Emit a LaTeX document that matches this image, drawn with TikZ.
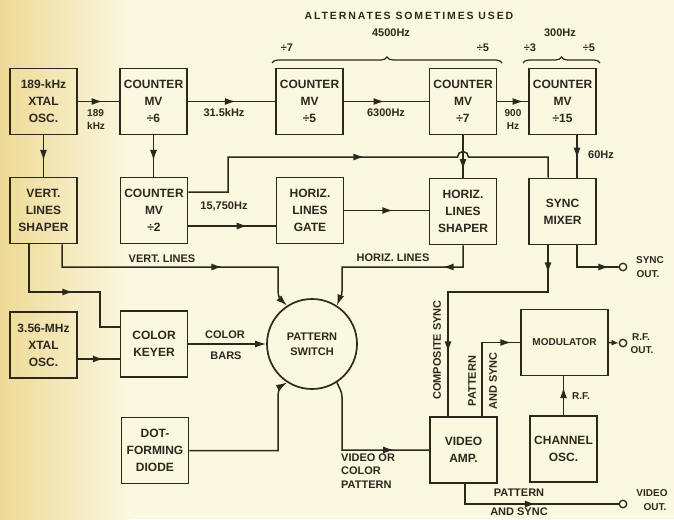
\documentclass[tikz,border=0pt]{standalone}
\usepackage{fontspec}
\setmainfont{Liberation Sans}
\newfontfamily\spacedfont[LetterSpace=18]{Liberation Sans}
\usetikzlibrary{arrows.meta,decorations.markings,decorations.pathreplacing}
\definecolor{ink}{RGB}{45,40,30}
\definecolor{paper}{RGB}{251,248,224}
\definecolor{aged}{RGB}{238,218,150}
\begin{document}
\begin{tikzpicture}[x=1pt,y=-1pt,color=ink,
  box/.style={draw=ink,line width=1.7pt,minimum width=67pt,minimum height=66pt,inner sep=1pt,align=center,text=ink,font=\bfseries\fontsize{12}{17}\selectfont},
  lbl/.style={text=ink,inner sep=0pt,align=center,font=\bfseries\fontsize{11}{13.5}\selectfont},
  small/.style={text=ink,inner sep=0pt,align=center,font=\bfseries\fontsize{10}{13}\selectfont},
  wire/.style={draw=ink,line width=1.5pt},
  tip/.style={-{Latex[length=11pt,width=7pt]}},
  arr/.style={postaction={decorate,decoration={markings,mark=at position #1 with {\arrow{Latex[length=11pt,width=7pt]}}}}},
  term/.style={draw=ink,line width=1.3pt,circle,minimum size=7.5pt,inner sep=0pt},
  brc/.style={draw=ink,line width=1.2pt,decorate,decoration={brace,amplitude=6pt}}
]
% background
\fill[paper] (0,0) rectangle (674,519);
\shade[left color=aged,right color=paper] (0,0) rectangle (130,519);
\useasboundingbox (0,0) rectangle (674,519);

% row 1
\node[box] (osc1) at (43.5,101.5) {189-kHz\\XTAL\\OSC.};
\node[box] (cnt6) at (153.5,101.5) {COUNTER\\MV\\÷6};
\node[box] (cnt5) at (309.5,101.5) {COUNTER\\MV\\÷5};
\node[box] (cnt7) at (463,101.5) {COUNTER\\MV\\÷7};
\node[box] (cnt15) at (562.5,101.5) {COUNTER\\MV\\÷15};
% row 2
\node[box] (vsh) at (43.5,210.5) {VERT.\\LINES\\SHAPER};
\node[box] (cnt2) at (154,210.5) {COUNTER\\MV\\÷2};
\node[box] (hgate) at (310,210.5) {HORIZ.\\LINES\\GATE};
\node[box] (hsh) at (463,211.5) {HORIZ.\\LINES\\SHAPER};
\node[box] (smix) at (562.5,211.5) {SYNC\\MIXER};
% row 3
\node[box] (osc2) at (43.5,345) {3.56-MHz\\XTAL\\OSC.};
\node[box] (keyer) at (154,344) {COLOR\\KEYER};
\node[draw=ink,line width=1.7pt,circle,minimum size=90pt,inner sep=0pt,align=center,text=ink,font=\bfseries\fontsize{11}{15}\selectfont] (sw) at (312,344) {PATTERN\\SWITCH};
\node[box,minimum width=87pt,font=\bfseries\fontsize{10}{14}\selectfont] (mod) at (564.5,342.5) {MODULATOR};
% row 4
\node[box] (diode) at (155,450.5) {DOT-\\FORMING\\DIODE};
\node[box] (vamp) at (463.5,450) {VIDEO\\AMP.};
\node[box] (chosc) at (563.5,449) {CHANNEL\\OSC.};
% terminals
\node[term] (syncout) at (623,267) {};
\node[term] (rfout) at (623,343) {};
\node[term] (vout) at (623,504) {};

% connectors
\draw[wire,arr=0.6] (osc1) -- (cnt6);
\draw[wire,arr=0.55] (cnt6) -- (cnt5);
\draw[wire,arr=0.48] (cnt5) -- (cnt7);
\draw[wire,arr=0.85] (cnt7) -- (cnt15);
\draw[wire,arr=0.62] (osc1) -- (vsh);
\draw[wire,arr=0.62] (cnt6.south) -- (cnt6.south |- cnt2.north);
\draw[wire,arr=0.82] (cnt7) -- (hsh);
\draw[wire,arr=0.55] ([xshift=14.5pt]cnt15.south) -- ([xshift=14.5pt]smix.north);
\draw[wire,arr=0.68] ([yshift=-15.5pt]cnt2.east) -- ([yshift=-15.5pt]hgate.west);
\draw[wire,arr=211pt] ([yshift=18.5pt]cnt2.east) -- (228,192) -- (228,157) -- (457.5,157)
   arc[start angle=180,end angle=360,radius=5.5] -- (548,157) -- ([xshift=-14.5pt]smix.north);
\draw[wire,arr=0.58] (hgate.east) -- (hgate.east -| hsh.west);
\draw[wire,arr=183pt,tip] ([xshift=18.5pt]vsh.south) -- (62,267) -- (278,267) -- (278,291)
   .. controls (278,297) and (281,300) .. (sw.123);
\draw[wire,arr=42pt,tip] (hsh.south) -- (463,267) -- (342,267) -- (342,291)
   .. controls (342,297) and (339,300) .. (sw.57);
\draw[wire,arr=92pt] ([xshift=-14.5pt]vsh.south) -- (29,292) -- (100,292) -- (100,327) -- ([yshift=17pt]keyer.west);
\draw[wire,arr=0.62] ([yshift=-14pt]osc2.east) -- ([yshift=-15pt]keyer.west);
\draw[wire,tip] (keyer) -- (sw);
\draw[wire,tip] (diode.east) -- (278,450.5) -- (278,396) .. controls (278,390) and (281,386) .. (sw.237);
\draw[wire,arr=-35pt] (sw.303) .. controls (339,388) and (342,391) .. (342,397) -- (342,450) -- (vamp.west);
\draw[wire,arr=28pt,arr=207pt] ([xshift=-14.5pt]smix.south) -- (548,292) -- (448,292) -- ([xshift=-15.5pt]vamp.north);
\draw[wire,arr=54pt] ([xshift=14.5pt]smix.south) |- (syncout.west);
\draw[wire,arr=103pt] ([xshift=18.5pt]vamp.north) |- (mod.west);
\draw[wire,-{Latex[length=7pt,width=6pt]}] (mod.east) -- (rfout.west);
\draw[wire,arr=28pt] (chosc.north) -- (chosc.north |- mod.south);
\draw[wire,arr=91pt] ([xshift=1.5pt]vamp.south) |- (vout.west);

% top labels and braces
\node[lbl,font=\bfseries\spacedfont\fontsize{10.5}{12}\selectfont] (alt) at (409,16) {ALTERNATES SOMETIMES USED};
\node[lbl] (f4500) at (391,33) {4500Hz};
\node[lbl] (f300) at (560,33) {300Hz};
\node[lbl] (d7a) at (287,48) {÷7};
\node[lbl] (d5a) at (483,48) {÷5};
\node[lbl] (d3b) at (530,48) {÷3};
\node[lbl] (d5b) at (589,48) {÷5};
\draw[brc] (272,63) -- (502,63);
\draw[brc] (523,63) -- (600,63);

% connector labels
\node[small,anchor=west,align=left] (l189) at (87,120) {189\\kHz};
\node[lbl] (l315) at (224,113) {31.5kHz};
\node[lbl] (l6300) at (386,113) {6300Hz};
\node[small] (l900) at (513,120) {900\\Hz};
\node[lbl] (l60) at (601,155) {60Hz};
\node[lbl] (l15750) at (224,207) {15,750Hz};
\node[lbl] (lvert) at (162,259) {VERT. LINES};
\node[lbl] (lhoriz) at (393,258) {HORIZ. LINES};
\node[lbl] (lcolor) at (225,335) {COLOR};
\node[lbl] (lbars) at (226,356) {BARS};
\node[lbl,anchor=west,align=left] (lvid) at (341,471) {VIDEO OR\\COLOR\\PATTERN};
\node[lbl,rotate=90] (lcomp) at (437,350) {COMPOSITE SYNC};
\node[lbl,rotate=90] (lpat) at (472,381) {PATTERN};
\node[lbl,rotate=90] (lands) at (493,381) {AND SYNC};
\node[small,anchor=west] (lrf) at (572,396) {R.F.};
\node[lbl] (lpat2) at (519,493) {PATTERN};
\node[lbl] (lands2) at (519,512) {AND SYNC};
\node[small] (lsync) at (650,260) {SYNC};
\node[small] (lsout) at (648,274) {OUT.};
\node[small] (lrfo) at (641,337) {R.F.};
\node[small] (lrfout) at (642,350) {OUT.};
\node[small] (lvo) at (652,493) {VIDEO};
\node[small] (lvout) at (655,507) {OUT.};
\end{tikzpicture}
\end{document}
